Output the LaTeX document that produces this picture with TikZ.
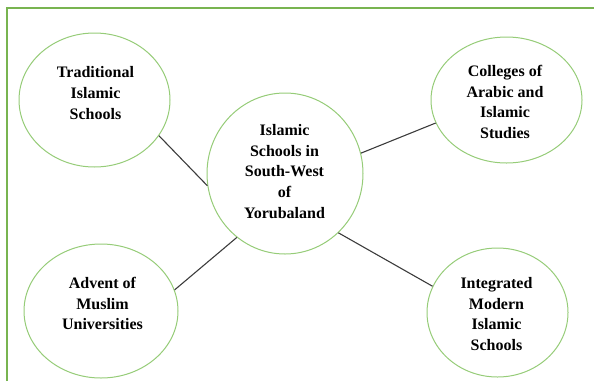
\documentclass[tikz,border=0pt]{standalone}
\usepackage{fontspec}
\setmainfont{Liberation Serif}
\usetikzlibrary{shapes.geometric}
\definecolor{bubgreen}{RGB}{150,204,120}
\definecolor{framegreen}{RGB}{120,180,80}
\definecolor{connclr}{RGB}{60,60,60}
\tikzset{
  bub/.style={ellipse, draw=bubgreen, line width=1pt, inner sep=0pt, fill=white},
  lbl/.style={align=center, inner sep=0pt, font=\bfseries\fontsize{16}{20.8}\selectfont},
  conn/.style={draw=connclr, line width=1.1pt},
  frameline/.style={draw=framegreen, line width=1.3pt}
}
\begin{document}
\begin{tikzpicture}[x=1pt,y=-1pt]
\useasboundingbox (0,0) rectangle (594,381);
\coordinate (fbl) at (7,381);
\coordinate (ftl) at (7,8);
\coordinate (ftr) at (594,8);
\draw[frameline] (fbl) -- (ftl) -- (ftr);

\node[bub, minimum width=151pt, minimum height=134pt] (trad) at (94.5,100) {};
\node[bub, minimum width=156pt, minimum height=161pt] (cen) at (285,173.5) {};
\node[bub, minimum width=151pt, minimum height=126pt] (coll) at (506.5,100) {};
\node[bub, minimum width=154pt, minimum height=134pt] (adv) at (101,311) {};
\node[bub, minimum width=141pt, minimum height=129pt] (integ) at (497.5,312.5) {};

\node[lbl] (tradt) at (95.5,93) {Traditional\\Islamic\\Schools};
\node[lbl] (cent) at (284.5,171.5) {Islamic\\Schools in\\South-West\\of\\Yorubaland};
\node[lbl] (collt) at (505,102) {Colleges of\\Arabic and\\Islamic\\Studies};
\node[lbl] (advt) at (102.5,303.5) {Advent of\\Muslim\\Universities};
\node[lbl] (integt) at (496.5,314) {Integrated\\Modern\\Islamic\\Schools};

\draw[conn] (trad.-29.8) -- (cen.-171.3);
\draw[conn] (cen.15.8) -- (coll.-162.2);
\draw[conn] (cen.-127) -- (adv.16.8);
\draw[conn] (cen.-48.7) -- (integ.158.7);
\end{tikzpicture}
\end{document}
